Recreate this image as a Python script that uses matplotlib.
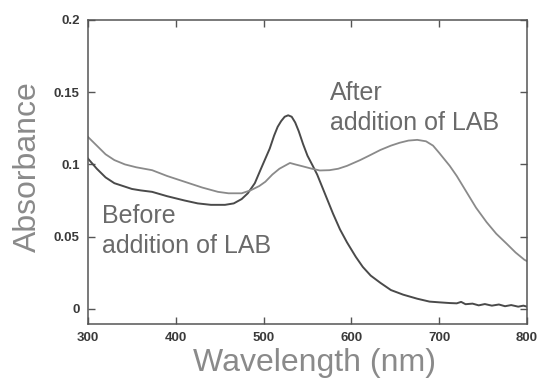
import matplotlib
matplotlib.use("Agg")
import matplotlib.pyplot as plt

plt.rcParams['font.family'] = ['Liberation Sans', 'DejaVu Sans']

before_wl = [300, 310, 320, 330, 340, 350, 360, 373, 390, 410, 425, 440, 456, 466, 475,
             482, 490, 497, 502, 507, 512, 516, 520, 524, 528, 532, 536, 540, 545, 550,
             556, 561, 567, 573, 579, 587, 595, 605, 613, 622, 633, 645, 659, 675, 689,
             700, 712, 720, 725, 730, 738, 745, 752, 760, 768, 775, 782, 790, 796, 800]
before_abs = [0.104, 0.097, 0.091, 0.087, 0.085, 0.083, 0.082, 0.081, 0.078, 0.075, 0.073,
              0.072, 0.072, 0.073, 0.076, 0.080, 0.087, 0.097, 0.104, 0.111, 0.120, 0.126,
              0.130, 0.133, 0.134, 0.133, 0.129, 0.123, 0.114, 0.106, 0.099, 0.093, 0.084,
              0.075, 0.066, 0.055, 0.046, 0.036, 0.029, 0.023, 0.018, 0.013, 0.0098, 0.007,
              0.005, 0.0045, 0.004, 0.0038, 0.0048, 0.0032, 0.0036, 0.0024, 0.0033, 0.0022,
              0.003, 0.0018, 0.0026, 0.0015, 0.0022, 0.0015]

after_wl = [300, 310, 320, 330, 342, 355, 373, 390, 410, 430, 448, 460, 475, 485, 495, 502,
            510, 518, 524, 530, 536, 545, 555, 564, 575, 585, 595, 610, 620, 633, 645, 655,
            665, 675, 685, 693, 700, 712, 720, 731, 742, 754, 765, 777, 787, 797, 800]
after_abs = [0.119, 0.113, 0.107, 0.103, 0.100, 0.098, 0.096, 0.092, 0.088, 0.084, 0.081,
             0.080, 0.080, 0.082, 0.085, 0.088, 0.093, 0.097, 0.099, 0.101, 0.100, 0.0986,
             0.097, 0.0958, 0.096, 0.097, 0.099, 0.103, 0.106, 0.110, 0.113, 0.115, 0.1165,
             0.117, 0.116, 0.113, 0.108, 0.099, 0.092, 0.081, 0.070, 0.060, 0.052, 0.045,
             0.039, 0.034, 0.033]

x_ticks = [300, 400, 500, 600, 700, 800]
y_ticks = [0, 0.05, 0.1, 0.15, 0.2]
y_tick_labels = ["0", "0.05", "0.1", "0.15", "0.2"]

fig = plt.figure(figsize=(5.39, 3.80), dpi=100)
ax = fig.add_axes([0.1633, 0.1474, 0.8144, 0.80])

ax.plot(before_wl, before_abs, color='#4a4a4a', lw=1.4)
ax.plot(after_wl, after_abs, color='#8a8a8a', lw=1.3)

ax.set_xlim(300, 800)
ax.set_ylim(-0.0105, 0.2)
ax.set_xticks(x_ticks)
ax.set_xticklabels([str(v) for v in x_ticks])
ax.set_yticks(y_ticks)
ax.set_yticklabels(y_tick_labels)
ax.tick_params(direction='in', top=True, right=True, length=5, width=1,
               color='#555555', labelsize=9.5, labelcolor='#3a3a3a', pad=6)
for lab in ax.get_xticklabels() + ax.get_yticklabels():
    lab.set_fontweight('bold')
for s in ax.spines.values():
    s.set_color('#555555')
    s.set_linewidth(1.1)

ax.set_xlabel('Wavelength (nm)', fontsize=23, color='#8a8a8a')
ax.set_ylabel('Absorbance', fontsize=23, color='#8a8a8a')
ax.xaxis.set_label_coords(0.517, -0.08)
ax.yaxis.set_label_coords(-0.102, 0.516)

txt_kw = dict(transform=ax.transAxes, fontsize=18, color='#6a6a6a',
              va='baseline', ha='left')
ax.text(0.551, 0.737, 'After', **txt_kw)
ax.text(0.551, 0.638, 'addition of LAB', **txt_kw)
ax.text(0.032, 0.332, 'Before', **txt_kw)
ax.text(0.032, 0.232, 'addition of LAB', **txt_kw)

fig.savefig('out.png', dpi=100)
